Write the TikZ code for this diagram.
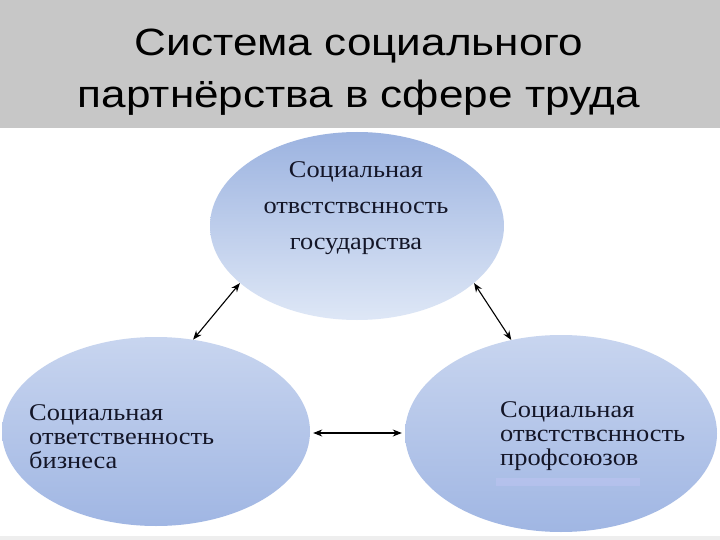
\documentclass[tikz,border=0pt]{standalone}
\usepackage{fontspec}
\setmainfont{Liberation Serif}
\newfontfamily\titlefont{Liberation Sans}
\usetikzlibrary{shapes.geometric,arrows.meta}
\definecolor{titlegray}{RGB}{199,199,199}
\definecolor{footgray}{RGB}{238,238,238}
\definecolor{ellDark}{RGB}{156,179,224}
\definecolor{ellLight}{RGB}{222,231,246}
\definecolor{ellTop}{RGB}{200,213,239}
\definecolor{ellBot}{RGB}{160,182,227}
\definecolor{lavender}{RGB}{190,196,242}
\definecolor{inkcol}{RGB}{20,22,40}
\newcommand{\hstretch}[1]{\scalebox{1.16}[1]{#1}}
\newcommand{\bstretch}[1]{\scalebox{1.10}[1]{#1}}
\tikzset{
  bubble/.style={ellipse, inner sep=0pt, draw=none},
  bubbleA/.style={bubble, top color=ellDark, bottom color=ellLight},
  bubbleB/.style={bubble, top color=ellTop, bottom color=ellBot},
  biarrow/.style={{Stealth[length=9pt,width=7pt]}-{Stealth[length=9pt,width=7pt]}, line width=1.1pt, black}
}
\begin{document}
\begin{tikzpicture}[x=1pt,y=-1pt]
\useasboundingbox (0,0) rectangle (720,540);
\fill[white] (0,0) rectangle (720,540);
% title band
\fill[titlegray] (0,0) rectangle (720,128);
\fill[footgray] (0,536) rectangle (720,540);
\node[anchor=base, inner sep=0pt, font=\titlefont\fontsize{38}{52}\selectfont] (title) at (359,56)
  {\hstretch{\begin{tabular}[t]{@{}c@{}}Система социального\\партнёрства в сфере труда\end{tabular}}};
% ellipses
\node[bubbleA, minimum width=294pt, minimum height=188pt] (state) at (357,226) {};
\node[bubbleB, minimum width=308pt, minimum height=189pt] (business) at (156,431.5) {};
\node[bubbleB, minimum width=312pt, minimum height=197pt] (unions) at (561,433.5) {};
\fill[lavender, opacity=0.55] (496,478) rectangle (640,486);
% texts
\node[anchor=base, inner sep=0pt, text=inkcol, font=\fontsize{24}{36}\selectfont] (stateText) at (356,178)
  {\bstretch{\begin{tabular}[t]{@{}c@{}}Социальная\\отвстствснность\\государства\end{tabular}}};
\node[anchor=base west, inner sep=0pt, text=inkcol, font=\fontsize{24}{24}\selectfont] (businessText) at (29,420)
  {\bstretch{\begin{tabular}[t]{@{}l@{}}Социальная\\ответственность\\бизнеса\end{tabular}}};
\node[anchor=base west, inner sep=0pt, text=inkcol, font=\fontsize{24}{24}\selectfont] (unionsText) at (500,417)
  {\bstretch{\begin{tabular}[t]{@{}l@{}}Социальная\\отвстствснность\\профсоюзов\end{tabular}}};
% connectors
\coordinate (midL) at ([shift={(3,1.5)}]business.east);
\draw[biarrow] (state.206) -- (business.68.7);
\draw[biarrow] (state.334.6) -- (unions.118.2);
\draw[biarrow, shorten >=3pt] (midL) -- (midL -| unions.west);
\end{tikzpicture}
\end{document}
